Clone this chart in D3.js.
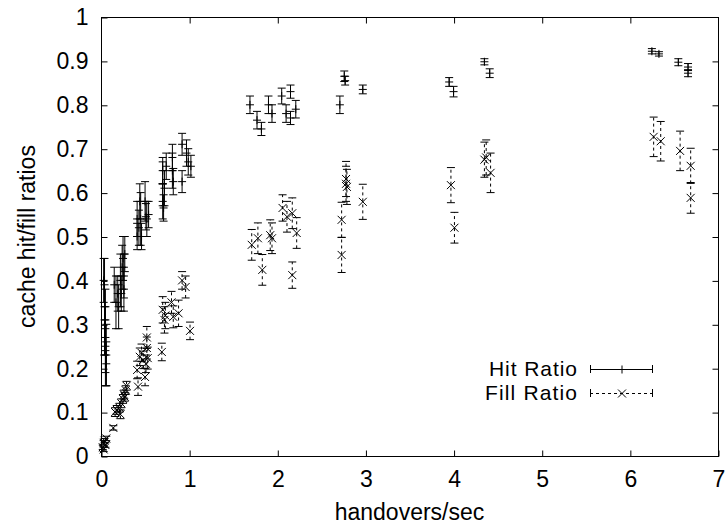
<!DOCTYPE html>
<html>
<head>
<meta charset="utf-8">
<script src="https://cdn.jsdelivr.net/npm/d3@7"></script>
<style>
  body { margin: 0; background: #fff; }
  svg text { font-family: "Liberation Sans", Arial, sans-serif; fill: #000; }
</style>
</head>
<body>
<div id="chart"></div>
<script>
// Hit ratio: x (handovers/sec), y (ratio), err (half height of error bar)
const hitX = [0.03, 0.04, 0.04, 0.05, 0.05, 0.05, 0.06, 0.06,
  0.15, 0.17, 0.19, 0.20,
  0.22, 0.23, 0.24, 0.25, 0.26, 0.26, 0.27,
  0.41, 0.41, 0.43, 0.44, 0.45, 0.46, 0.50, 0.51, 0.52, 0.54,
  0.70, 0.70, 0.70, 0.71, 0.72, 0.74, 0.81, 0.81, 0.82, 0.92, 0.92, 0.97, 0.99, 1.02,
  1.69, 1.77, 1.82, 1.90, 1.94, 2.05, 2.10, 2.15, 2.15, 2.21,
  2.71, 2.76, 2.77, 2.97,
  3.95, 4.00, 4.35, 4.41,
  6.25, 6.33, 6.55, 6.66, 6.66];
const hitY = [0.40, 0.34, 0.31, 0.29, 0.27, 0.25, 0.23, 0.21,
  0.39, 0.35, 0.37, 0.34,
  0.40, 0.37, 0.43, 0.45, 0.41, 0.38, 0.46,
  0.54, 0.50, 0.52, 0.58, 0.54, 0.50, 0.58, 0.545, 0.54, 0.55,
  0.65, 0.62, 0.58, 0.565, 0.61, 0.66, 0.68, 0.65, 0.625, 0.71, 0.625, 0.69, 0.67, 0.66,
  0.80, 0.765, 0.745, 0.80, 0.78, 0.82, 0.78, 0.83, 0.77, 0.79,
  0.80, 0.865, 0.855, 0.835,
  0.852, 0.83, 0.898, 0.872,
  0.922, 0.916, 0.897, 0.886, 0.872];
const hitErr = [0.05, 0.11, 0.08, 0.05, 0.11, 0.06, 0.07, 0.05,
  0.04, 0.06, 0.04, 0.05,
  0.06, 0.04, 0.05, 0.05, 0.05, 0.05, 0.04,
  0.04, 0.03, 0.04, 0.04, 0.06, 0.03, 0.045, 0.03, 0.04, 0.03,
  0.03, 0.05, 0.04, 0.03, 0.04, 0.03, 0.03, 0.04, 0.03, 0.025, 0.025, 0.03, 0.03, 0.025,
  0.02, 0.02, 0.015, 0.02, 0.02, 0.018, 0.02, 0.015, 0.015, 0.02,
  0.02, 0.012, 0.01, 0.01,
  0.01, 0.012, 0.007, 0.01,
  0.006, 0.005, 0.008, 0.008, 0.008];

// Fill ratio
const fillX = [0.02, 0.03, 0.03, 0.04, 0.05, 0.06, 0.14,
  0.16, 0.18, 0.21, 0.22, 0.23, 0.25, 0.26, 0.27, 0.28, 0.29,
  0.41, 0.42, 0.44, 0.46, 0.48, 0.50, 0.51, 0.52, 0.52, 0.53,
  0.69, 0.70, 0.72, 0.73, 0.80, 0.82, 0.88, 0.92, 0.96, 1.01,
  1.71, 1.78, 1.83, 1.92, 1.94, 2.06, 2.11, 2.17, 2.17, 2.22,
  2.73, 2.73, 2.78, 2.78, 2.79, 2.97,
  3.97, 4.01, 4.35, 4.37, 4.42,
  6.27, 6.35, 6.57, 6.69, 6.69];
const fillY = [0.02, 0.015, 0.03, 0.035, 0.025, 0.04, 0.064,
  0.10, 0.105, 0.11, 0.095, 0.12, 0.13, 0.14, 0.135, 0.15, 0.16,
  0.196, 0.158, 0.226, 0.235, 0.219, 0.18, 0.21, 0.246, 0.27, 0.223,
  0.237, 0.333, 0.31, 0.32, 0.35, 0.317, 0.325, 0.40, 0.385, 0.285,
  0.481, 0.496, 0.424, 0.503, 0.496, 0.565, 0.545, 0.553, 0.412, 0.508,
  0.538, 0.458, 0.631, 0.62, 0.613, 0.579,
  0.617, 0.52, 0.675, 0.68, 0.645,
  0.727, 0.717, 0.695, 0.661, 0.588];
const fillErr = [0.005, 0.005, 0.005, 0.005, 0.005, 0.005, 0.005,
  0.01, 0.01, 0.01, 0.01, 0.01, 0.01, 0.01, 0.01, 0.01, 0.01,
  0.02, 0.02, 0.02, 0.02, 0.02, 0.02, 0.02, 0.025, 0.025, 0.025,
  0.02, 0.03, 0.03, 0.03, 0.025, 0.025, 0.03, 0.02, 0.025, 0.02,
  0.035, 0.035, 0.035, 0.035, 0.035, 0.03, 0.035, 0.035, 0.03, 0.035,
  0.04, 0.04, 0.04, 0.04, 0.04, 0.04,
  0.04, 0.035, 0.04, 0.04, 0.045,
  0.045, 0.045, 0.045, 0.04, 0.035];

const xTicks = [0, 1, 2, 3, 4, 5, 6, 7];
const yTicks = [0, 0.1, 0.2, 0.3, 0.4, 0.5, 0.6, 0.7, 0.8, 0.9, 1];
const seriesNames = ["Hit Ratio", "Fill Ratio"];

const width = 727, height = 527;
const margin = { top: 17, right: 9, bottom: 71, left: 101 };
const fontSize = 23;

const x = d3.scaleLinear().domain([0, 7]).range([margin.left, width - margin.right]);
const y = d3.scaleLinear().domain([0, 1]).range([height - margin.bottom, margin.top]);

const svg = d3.select("#chart").append("svg")
  .attr("width", width).attr("height", height);

// frame
svg.append("rect")
  .attr("x", x(0) + 0.5).attr("y", y(1) + 0.5)
  .attr("width", x(7) - x(0)).attr("height", y(0) - y(1))
  .attr("fill", "none").attr("stroke", "#000").attr("stroke-width", 1);

const tickLen = 6;

// X axis (ticks inside, mirrored)
svg.append("g")
  .attr("transform", `translate(0.5, ${y(0) + 0.5})`)
  .call(d3.axisBottom(x).tickValues(xTicks).tickSizeInner(-tickLen).tickSizeOuter(0).tickPadding(14).tickFormat(d3.format("d")))
  .call(g => g.select(".domain").remove())
  .call(g => g.selectAll("text").attr("font-size", fontSize).attr("font-family", null).attr("fill", "#000"));
svg.append("g")
  .attr("transform", `translate(0.5, ${y(1) + 0.5})`)
  .call(d3.axisTop(x).tickValues(xTicks.slice(1, -1)).tickSizeInner(-tickLen).tickSizeOuter(0).tickFormat(""))
  .call(g => g.select(".domain").remove());

// Y axis
svg.append("g")
  .attr("transform", `translate(${x(0) + 0.5}, 0.5)`)
  .call(d3.axisLeft(y).tickValues(yTicks).tickSizeInner(-tickLen).tickSizeOuter(0).tickPadding(13).tickFormat(d => d === 0 || d === 1 ? d3.format("d")(d) : d3.format(".1f")(d)))
  .call(g => g.select(".domain").remove())
  .call(g => g.selectAll("text").attr("font-size", fontSize).attr("font-family", null).attr("fill", "#000"));
svg.append("g")
  .attr("transform", `translate(${x(7) + 0.5}, 0.5)`)
  .call(d3.axisRight(y).tickValues(yTicks.slice(1, -1)).tickSizeInner(-tickLen).tickSizeOuter(0).tickFormat(""))
  .call(g => g.select(".domain").remove());

svg.selectAll(".tick line").attr("stroke", "#000");

// axis titles
svg.append("text")
  .attr("x", (x(0) + x(7)) / 2).attr("y", 520)
  .attr("text-anchor", "middle").attr("font-size", fontSize)
  .text("handovers/sec");
svg.append("text")
  .attr("transform", `translate(35, ${(y(0) + y(1)) / 2}) rotate(-90)`)
  .attr("text-anchor", "middle").attr("font-size", fontSize)
  .text("cache hit/fill ratios");

const capW = 4;
const ptR = 4;

function drawSeries(xs, ys, errs, dash, marker) {
  const g = svg.append("g");
  const data = xs.map((d, i) => ({ x: d, y: ys[i], e: errs[i] }));
  const bars = g.selectAll("g.bar").data(data).enter().append("g")
    .attr("stroke", "#000").attr("stroke-width", 1).attr("fill", "none");
  bars.append("line")
    .attr("x1", d => x(d.x)).attr("x2", d => x(d.x))
    .attr("y1", d => y(d.y - d.e)).attr("y2", d => y(d.y + d.e))
    .attr("stroke-dasharray", dash);
  bars.append("line")
    .attr("x1", d => x(d.x) - capW).attr("x2", d => x(d.x) + capW)
    .attr("y1", d => y(d.y - d.e)).attr("y2", d => y(d.y - d.e));
  bars.append("line")
    .attr("x1", d => x(d.x) - capW).attr("x2", d => x(d.x) + capW)
    .attr("y1", d => y(d.y + d.e)).attr("y2", d => y(d.y + d.e));
  bars.append("path").attr("d", d => marker(x(d.x), y(d.y)));
}

const plus = (cx, cy) => `M${cx - ptR},${cy}H${cx + ptR}M${cx},${cy - ptR}V${cy + ptR}`;
const cross = (cx, cy) => `M${cx - ptR},${cy - ptR}L${cx + ptR},${cy + ptR}M${cx - ptR},${cy + ptR}L${cx + ptR},${cy - ptR}`;

drawSeries(hitX, hitY, hitErr, null, plus);
drawSeries(fillX, fillY, fillErr, "3,3", cross);

// legend
const legend = svg.append("g");
const legendRows = [
  { name: seriesNames[0], dash: null, marker: plus, y: 369 },
  { name: seriesNames[1], dash: "3,3", marker: cross, y: 393 }
];
legendRows.forEach(r => {
  legend.append("text")
    .attr("x", 577).attr("y", r.y + 7)
    .attr("text-anchor", "end").attr("font-size", 21)
    .attr("textLength", r.name === seriesNames[0] ? 88 : 92)
    .text(r.name);
  const lg = legend.append("g").attr("stroke", "#000").attr("fill", "none");
  lg.append("line").attr("x1", 590).attr("x2", 653).attr("y1", r.y + 0.5).attr("y2", r.y + 0.5)
    .attr("stroke-dasharray", r.dash);
  lg.append("line").attr("x1", 590.5).attr("x2", 590.5).attr("y1", r.y - 4).attr("y2", r.y + 4);
  lg.append("line").attr("x1", 652.5).attr("x2", 652.5).attr("y1", r.y - 4).attr("y2", r.y + 4);
  lg.append("path").attr("d", r.marker(622, r.y + 0.5));
});
</script>
</body>
</html>
